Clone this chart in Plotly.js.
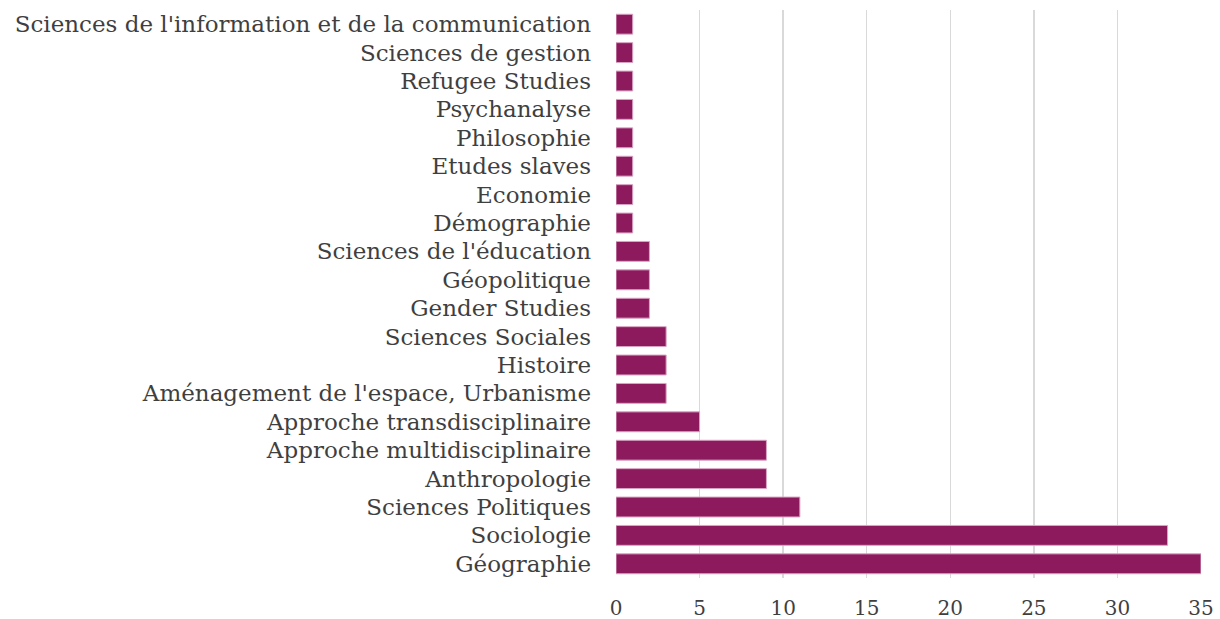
<!DOCTYPE html>
<html><head><meta charset="utf-8">
<script src="https://cdn.plot.ly/plotly-3.0.1.min.js"></script>
<style>body{margin:0;background:#fff}#c{width:1220px;height:619px}</style>
</head><body><div id="c"></div>
<script>
const categories = ["Géographie","Sociologie","Sciences Politiques","Anthropologie","Approche multidisciplinaire","Approche transdisciplinaire","Aménagement de l'espace, Urbanisme","Histoire","Sciences Sociales","Gender Studies","Géopolitique","Sciences de l'éducation","Démographie","Economie","Etudes slaves","Philosophie","Psychanalyse","Refugee Studies","Sciences de gestion","Sciences de l'information et de la communication"];
const values = [35,33,11,9,9,5,3,3,3,2,2,2,1,1,1,1,1,1,1,1];
const tickVals = [0,5,10,15,20,25,30,35];
const fontFam = "'DejaVu Serif', 'Liberation Serif', serif";
Plotly.newPlot('c', [{
  type:'bar', orientation:'h', x: values, y: categories,
  marker:{color:'#8E1A5E', line:{color:'#D9A5C4', width:1}},
  hoverinfo:'none'
}], {
  width:1220, height:619,
  margin:{l:616, r:19, t:10, b:41},
  bargap:0.3,
  paper_bgcolor:'#fff', plot_bgcolor:'#fff',
  font:{family:fontFam, color:'#3F3F3F'},
  xaxis:{range:[0,35], tickvals:tickVals, showgrid:true, gridcolor:'#D9D9D9', gridwidth:1.5,
    zeroline:false, showline:false, tickfont:{size:20, family:fontFam, color:'#3F3F3F'}, ticks:'', ticklabelstandoff:16, fixedrange:true},
  yaxis:{type:'category', showgrid:false, zeroline:false, showline:false,
    tickfont:{size:23, family:fontFam, color:'#3F3F3F'}, ticks:'', ticklabelstandoff:24, automargin:false},
  showlegend:false
}, {displayModeBar:false, staticPlot:true});
</script></body></html>
